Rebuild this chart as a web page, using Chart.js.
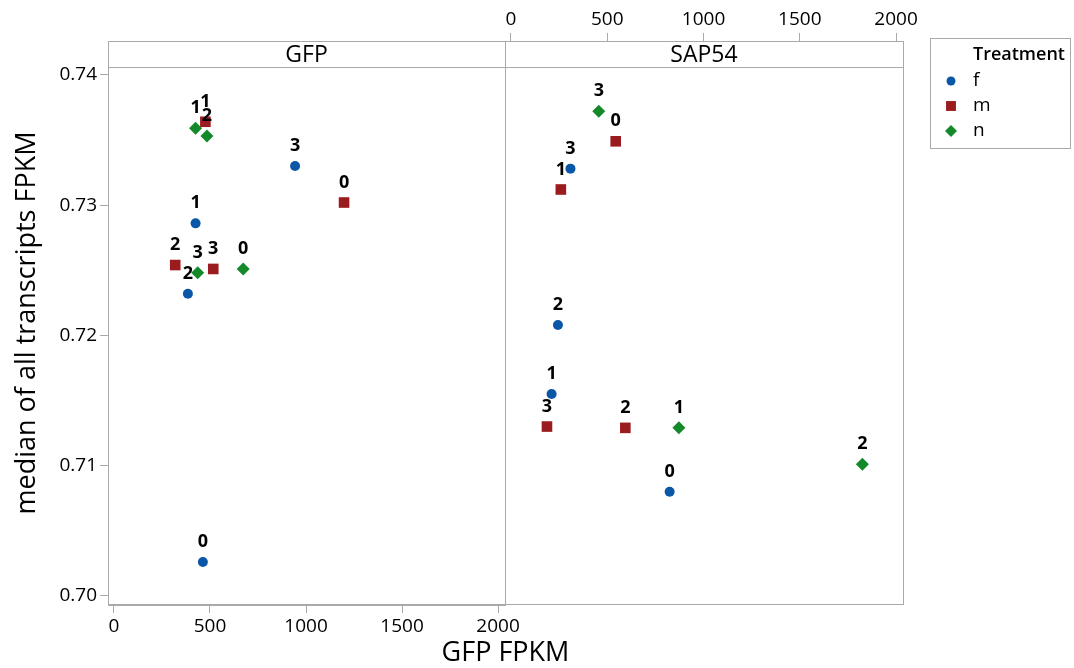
<!DOCTYPE html>
<html>
<head>
<meta charset="utf-8">
<script src="https://cdn.jsdelivr.net/npm/chart.js@4.4.1/dist/chart.umd.min.js"></script>
<style>
  html, body { margin: 0; padding: 0; background: #fff; }
  #wrap { position: relative; width: 1074px; height: 668px; overflow: hidden; font-family: "Open Sans", sans-serif; }
  canvas { position: absolute; left: 0; top: 0; }
  #xtitle { position: absolute; left: 108px; width: 795px; top: 634px; text-align: center; font-size: 27px; line-height: 34px; color: #000; }
</style>
</head>
<body>
<div id="wrap">
  <canvas id="gfp" width="1074" height="668"></canvas>
  <canvas id="sap" width="1074" height="668"></canvas>
  <div id="xtitle">GFP FPKM</div>
</div>
<script>
// values: [FPKM, median FPKM, sample label]
const treatments = ['f', 'm', 'n'];
const colors = ['#0b57a7', '#9a1c1e', '#13892a'];
const styles = ['circle', 'rect', 'rectRot'];
const radii = [5, 7.5, 6.5];

const xTicks = [0, 500, 1000, 1500, 2000];
const yTicks = [0.70, 0.71, 0.72, 0.73, 0.74];

const gfpF = [[463, 0.7026, '0'], [425, 0.7286, '1'], [385, 0.7232, '2'], [943, 0.7330, '3']];
const gfpM = [[1198, 0.7302, '0'], [476, 0.7364, '1'], [319, 0.7254, '2'], [517, 0.7251, '3']];
const gfpN = [[673, 0.7251, '0'], [425, 0.7359, '1'], [484, 0.7353, '2'], [436, 0.7248, '3']];

const sapF = [[824, 0.7080, '0'], [211, 0.7155, '1'], [244, 0.7208, '2'], [309, 0.7328, '3']];
const sapM = [[544, 0.7349, '0'], [259, 0.7312, '1'], [594, 0.7129, '2'], [187, 0.7130, '3']];
const sapN = [[872, 0.7129, '1'], [1825, 0.7101, '2'], [456, 0.7372, '3']];

const FONT = '"Open Sans", sans-serif';
const GRAY = '#a9a9a9';
const STRIP_H = 26;

// panel frame + strip header on top of the data area
const stripPlugin = {
  id: 'strip',
  afterDatasetsDraw(chart, args, opts) {
    const { ctx, chartArea: a } = chart;
    ctx.save();
    ctx.strokeStyle = GRAY;
    ctx.lineWidth = 1;
    ctx.strokeRect(a.left + 0.5, a.top + 0.5, a.right - a.left, a.bottom - a.top - 1);
    ctx.beginPath();
    ctx.moveTo(a.left, a.top + STRIP_H + 0.5);
    ctx.lineTo(a.right, a.top + STRIP_H + 0.5);
    ctx.stroke();
    ctx.fillStyle = '#000';
    ctx.font = '23px ' + FONT;
    ctx.textAlign = 'center';
    ctx.textBaseline = 'middle';
    ctx.fillText(opts.text, (a.left + a.right) / 2, a.top + STRIP_H / 2 + 1);
    ctx.restore();
  }
};

// sample number above every point
const labelPlugin = {
  id: 'ptlabels',
  afterDatasetsDraw(chart) {
    const { ctx } = chart;
    ctx.save();
    ctx.fillStyle = '#000';
    ctx.font = 'bold 18px ' + FONT;
    ctx.textAlign = 'center';
    ctx.textBaseline = 'middle';
    chart.data.datasets.forEach((ds, i) => {
      chart.getDatasetMeta(i).data.forEach((el, j) => {
        ctx.fillText(ds.data[j].lab, el.x, el.y - 20);
      });
    });
    ctx.restore();
  }
};

// boxed legend to the right of the second panel
const legendPlugin = {
  id: 'boxlegend',
  afterDraw(chart, args, opts) {
    if (!opts.show) return;
    const { ctx, chartArea: a } = chart;
    const x0 = a.right + 27, y0 = a.top - 3;
    ctx.save();
    ctx.strokeStyle = GRAY;
    ctx.strokeRect(x0 + 0.5, y0 + 0.5, 140, 110);
    ctx.fillStyle = '#000';
    ctx.font = '600 18px ' + FONT;
    ctx.textBaseline = 'middle';
    ctx.fillText('Treatment', x0 + 43, y0 + 17);
    ctx.font = '19px ' + FONT;
    chart.data.datasets.forEach((ds, i) => {
      const y = y0 + 43 + i * 25;
      ctx.fillStyle = ds.backgroundColor;
      Chart.helpers.drawPoint(ctx, { pointStyle: ds.pointStyle, radius: ds.pointRadius - 0.5, borderWidth: 0, rotation: 0 }, x0 + 21, y);
      ctx.fillStyle = '#000';
      ctx.fillText(ds.label, x0 + 43, y);
    });
    ctx.restore();
  }
};

function panel(id, name, sets, left) {
  const datasets = sets.map((pts, i) => ({
    label: treatments[i],
    data: pts.map(p => ({ x: p[0], y: p[1], lab: p[2] })),
    pointStyle: styles[i],
    pointRadius: radii[i],
    pointHoverRadius: radii[i],
    backgroundColor: colors[i],
    borderColor: colors[i],
    borderWidth: 0,
  }));
  const tickGrid = { drawOnChartArea: false, drawTicks: true, tickLength: 8, color: GRAY };
  return new Chart(document.getElementById(id), {
    type: 'scatter',
    data: { datasets },
    options: {
      responsive: false,
      animation: false,
      events: [],
      layout: {
        padding: left
          ? { left: 0, top: 41, right: 1074 - 505, bottom: 0 }
          : { left: 505, top: 0, right: 1074 - 903, bottom: 668 - 605 },
      },
      plugins: {
        legend: { display: false },
        tooltip: { enabled: false },
        strip: { text: name },
        boxlegend: { show: !left },
      },
      scales: {
        x: {
          type: 'linear',
          position: left ? 'bottom' : 'top',
          min: -31,
          max: 2036,
          afterBuildTicks: s => { s.ticks = xTicks.map(v => ({ value: v })); },
          afterFit: s => { s.height = left ? 63 : 41; },
          grid: tickGrid,
          border: { display: true, color: GRAY },
          ticks: { color: '#000', font: { family: FONT, size: 19 }, padding: 2, maxRotation: 0, callback: v => String(v) },
        },
        y: {
          type: 'linear',
          display: left,
          min: 0.6993,
          max: 0.7426,
          afterBuildTicks: s => { s.ticks = yTicks.map(v => ({ value: v })); },
          afterFit: s => { if (left) s.width = 108; },
          grid: tickGrid,
          border: { display: true, color: GRAY },
          ticks: { color: '#000', font: { family: FONT, size: 19 }, padding: 3, callback: v => v.toFixed(2) },
          title: {
            display: true,
            text: 'median of all transcripts FPKM',
            color: '#000',
            font: { family: FONT, size: 27 },
            padding: { top: 11, bottom: 0 },
          },
        },
      },
    },
    plugins: [stripPlugin, labelPlugin, legendPlugin],
  });
}

panel('gfp', 'GFP', [gfpF, gfpM, gfpN], true);
panel('sap', 'SAP54', [sapF, sapM, sapN], false);
</script>
</body>
</html>
